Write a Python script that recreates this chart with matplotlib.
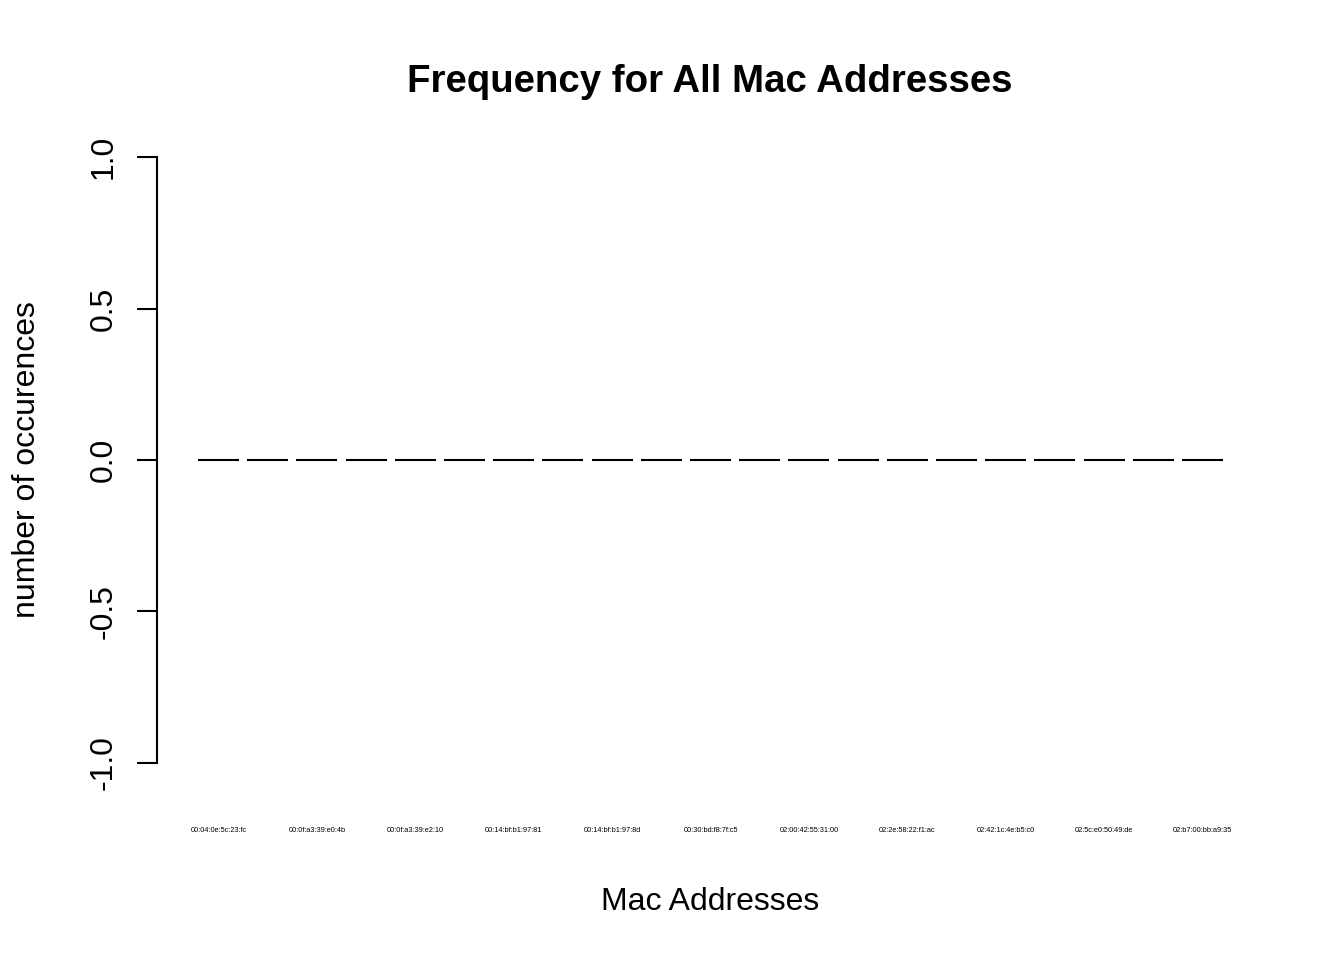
import matplotlib.pyplot as plt
import numpy as np

plt.rcParams["font.family"] = ["Liberation Sans", "DejaVu Sans"]

# labels shown under every other bar (R dropped the overlapping ones)
mac_labels = [
    "00:04:0e:5c:23:fc", "00:0f:a3:39:e0:4b", "00:0f:a3:39:e2:10",
    "00:14:bf:b1:97:81", "00:14:bf:b1:97:8d", "00:30:bd:f8:7f:c5",
    "02:00:42:55:31:00", "02:2e:58:22:f1:ac", "02:42:1c:4e:b5:c0",
    "02:5c:e0:50:49:de", "02:b7:00:bb:a9:35",
]
counts = [0] * 21

fig = plt.figure(figsize=(13.44, 9.6), dpi=100)
ax = fig.add_axes([157 / 1344, 173 / 960, 1107 / 1344, 654 / 960])

x = 0.7 + 1.2 * np.arange(len(counts))
ax.bar(x, counts, width=1.0, fill=False, edgecolor="black", linewidth=1.5)

ax.set_xlim(-0.8, 26.2)
ax.set_ylim(-1.08, 1.08)

for s in ["top", "right", "bottom"]:
    ax.spines[s].set_visible(False)
ax.spines["left"].set_bounds(-1, 1)
ax.spines["left"].set_linewidth(1.5)

ax.set_yticks([-1.0, -0.5, 0.0, 0.5, 1.0])
ax.set_yticklabels(["-1.0", "-0.5", "0.0", "0.5", "1.0"], rotation=90,
                   va="center", fontsize=23)
ax.tick_params(axis="y", length=14.4, width=1.5, pad=13)

ax.set_xticks(x[::2])
ax.set_xticklabels(mac_labels, fontsize=5.3)
ax.tick_params(axis="x", length=0, pad=29)

fig.text(710 / 1344, 1 - 82 / 960, "Frequency for All Mac Addresses",
         ha="center", va="center", fontsize=27.6, fontweight="bold")
fig.text(710 / 1344, 1 - 902 / 960, "Mac Addresses",
         ha="center", va="center", fontsize=23)
fig.text(27 / 1344, 1 - 460 / 960, "number of occurences",
         ha="center", va="center", rotation=90, fontsize=23)

fig.savefig("out.png", dpi=100)
